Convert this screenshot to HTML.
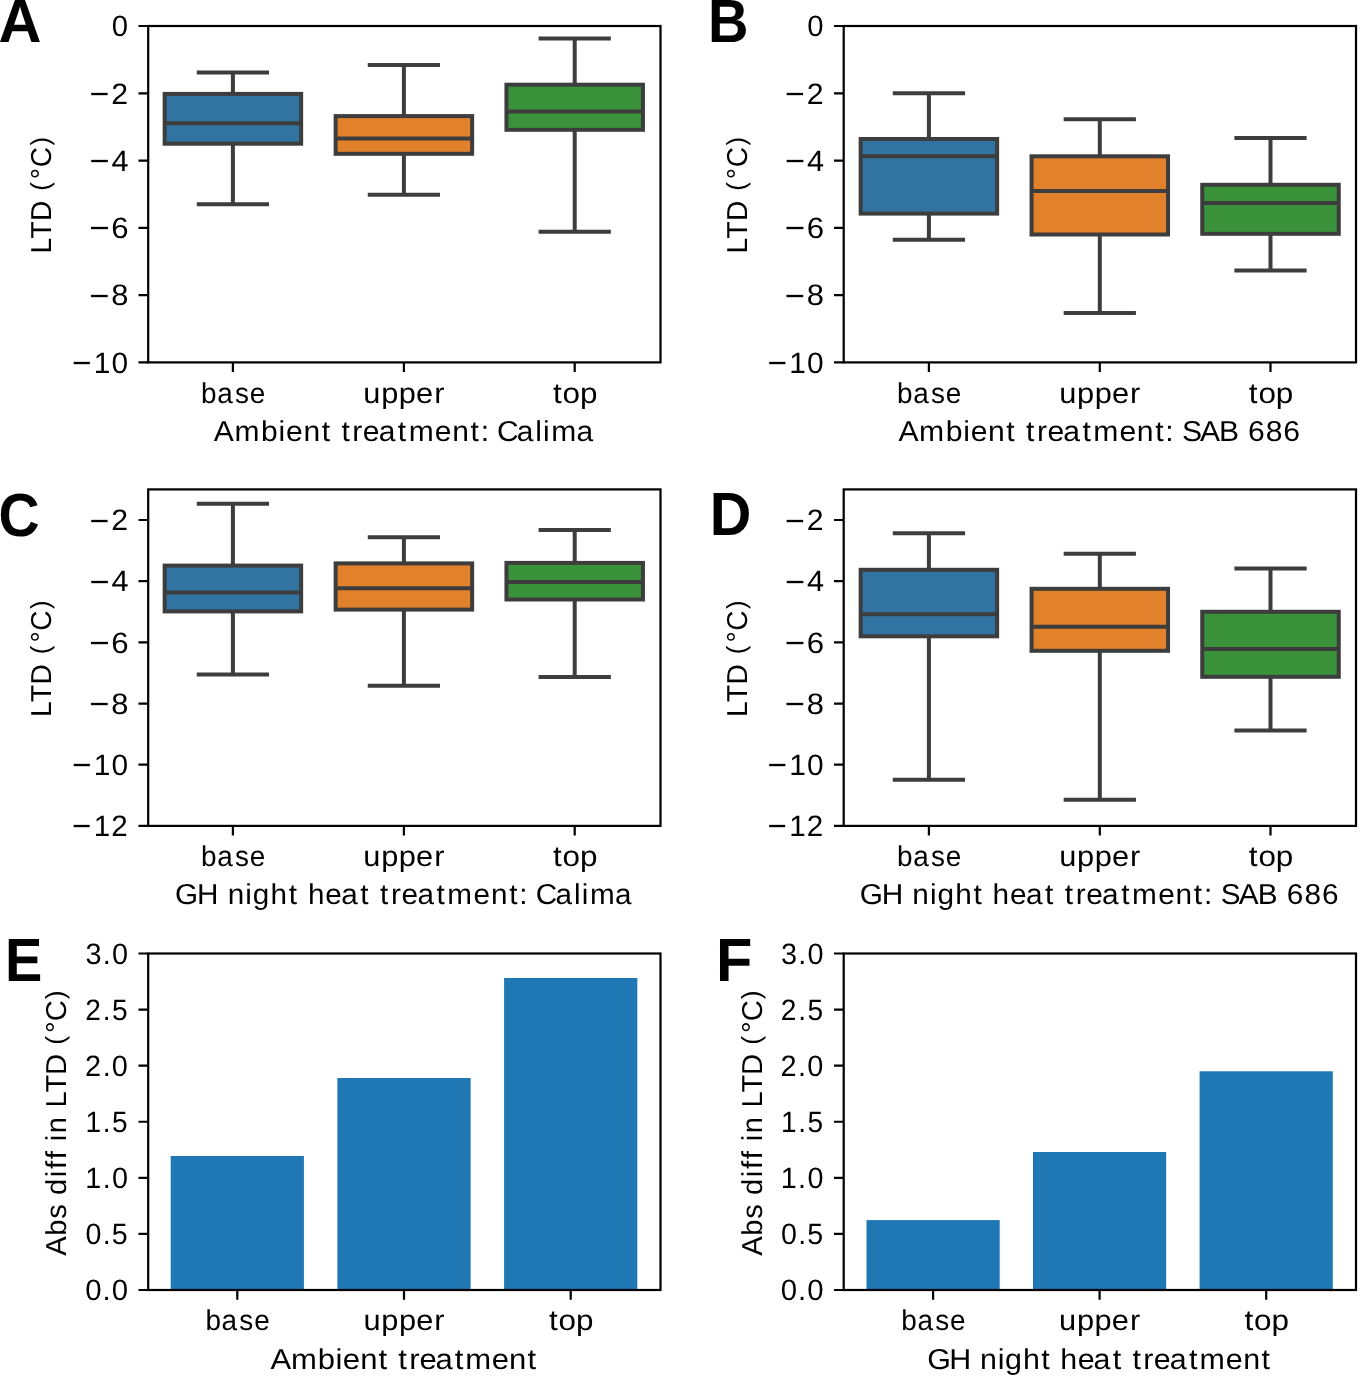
<!DOCTYPE html>
<html><head><meta charset="utf-8"><title>LTD boxplots</title>
<style>
html,body{margin:0;padding:0;background:#fff;width:1360px;height:1376px;overflow:hidden}
svg{display:block}
text{font-family:"Liberation Sans",sans-serif;fill:#000;text-rendering:geometricPrecision}
text.b{font-weight:bold}
</style></head><body>
<svg width="1360" height="1376" viewBox="0 0 1360 1376">
<rect x="0" y="0" width="1360" height="1376" fill="#fff"/>
<g stroke="#3d3d3d" stroke-width="4.0" fill="none">
<path d="M232.9 93.9V72.57M232.9 143.7V204.2" stroke-linecap="butt"/>
<path d="M198.78 72.57H267.02M198.78 204.2H267.02" stroke-linecap="square"/>
</g>
<rect x="164.65" y="93.9" width="136.5" height="49.8" fill="#3274a1" stroke="#3d3d3d" stroke-width="4.0"/>
<path d="M164.65 123.2H301.15" stroke="#3d3d3d" stroke-width="4.0"/>
<g stroke="#3d3d3d" stroke-width="4.0" fill="none">
<path d="M403.9 116.1V65.1M403.9 153.8V194.8" stroke-linecap="butt"/>
<path d="M369.77 65.1H438.02M369.77 194.8H438.02" stroke-linecap="square"/>
</g>
<rect x="335.65" y="116.1" width="136.5" height="37.7" fill="#e1812c" stroke="#3d3d3d" stroke-width="4.0"/>
<path d="M335.65 138.6H472.15" stroke="#3d3d3d" stroke-width="4.0"/>
<g stroke="#3d3d3d" stroke-width="4.0" fill="none">
<path d="M574.7 84.7V38.4M574.7 129.8V231.8" stroke-linecap="butt"/>
<path d="M540.58 38.4H608.83M540.58 231.8H608.83" stroke-linecap="square"/>
</g>
<rect x="506.45" y="84.7" width="136.5" height="45.1" fill="#3a923a" stroke="#3d3d3d" stroke-width="4.0"/>
<path d="M506.45 111.4H642.95" stroke="#3d3d3d" stroke-width="4.0"/>
<rect x="148.2" y="26" width="512.3" height="336.4" fill="none" stroke="#000" stroke-width="2.22"/>
<path d="M138.48 26H148.2M138.48 93.28H148.2M138.48 160.56H148.2M138.48 227.84H148.2M138.48 295.12H148.2M138.48 362.4H148.2" stroke="#000" stroke-width="2.22" stroke-linecap="butt"/>
<path d="M232.9 362.4V372.12M403.9 362.4V372.12M574.7 362.4V372.12" stroke="#000" stroke-width="2.22"/>
<g stroke="#3d3d3d" stroke-width="4.0" fill="none">
<path d="M928.9 139V93.2M928.9 213.6V239.8" stroke-linecap="butt"/>
<path d="M894.77 93.2H963.02M894.77 239.8H963.02" stroke-linecap="square"/>
</g>
<rect x="860.65" y="139" width="136.5" height="74.6" fill="#3274a1" stroke="#3d3d3d" stroke-width="4.0"/>
<path d="M860.65 156.3H997.15" stroke="#3d3d3d" stroke-width="4.0"/>
<g stroke="#3d3d3d" stroke-width="4.0" fill="none">
<path d="M1099.8 156.3V119.2M1099.8 234.5V313.1" stroke-linecap="butt"/>
<path d="M1065.67 119.2H1133.92M1065.67 313.1H1133.92" stroke-linecap="square"/>
</g>
<rect x="1031.55" y="156.3" width="136.5" height="78.2" fill="#e1812c" stroke="#3d3d3d" stroke-width="4.0"/>
<path d="M1031.55 191.1H1168.05" stroke="#3d3d3d" stroke-width="4.0"/>
<g stroke="#3d3d3d" stroke-width="4.0" fill="none">
<path d="M1270.5 184.8V137.9M1270.5 233.8V270.5" stroke-linecap="butt"/>
<path d="M1236.38 137.9H1304.62M1236.38 270.5H1304.62" stroke-linecap="square"/>
</g>
<rect x="1202.25" y="184.8" width="136.5" height="49" fill="#3a923a" stroke="#3d3d3d" stroke-width="4.0"/>
<path d="M1202.25 203H1338.75" stroke="#3d3d3d" stroke-width="4.0"/>
<rect x="843.7" y="26" width="512.3" height="336.4" fill="none" stroke="#000" stroke-width="2.22"/>
<path d="M833.98 26H843.7M833.98 93.28H843.7M833.98 160.56H843.7M833.98 227.84H843.7M833.98 295.12H843.7M833.98 362.4H843.7" stroke="#000" stroke-width="2.22" stroke-linecap="butt"/>
<path d="M928.9 362.4V372.12M1099.8 362.4V372.12M1270.5 362.4V372.12" stroke="#000" stroke-width="2.22"/>
<g stroke="#3d3d3d" stroke-width="4.0" fill="none">
<path d="M232.9 565.6V503.7M232.9 611.4V674.4" stroke-linecap="butt"/>
<path d="M198.78 503.7H267.02M198.78 674.4H267.02" stroke-linecap="square"/>
</g>
<rect x="164.65" y="565.6" width="136.5" height="45.8" fill="#3274a1" stroke="#3d3d3d" stroke-width="4.0"/>
<path d="M164.65 592.6H301.15" stroke="#3d3d3d" stroke-width="4.0"/>
<g stroke="#3d3d3d" stroke-width="4.0" fill="none">
<path d="M403.9 563.4V537.2M403.9 609.6V685.7" stroke-linecap="butt"/>
<path d="M369.77 537.2H438.02M369.77 685.7H438.02" stroke-linecap="square"/>
</g>
<rect x="335.65" y="563.4" width="136.5" height="46.2" fill="#e1812c" stroke="#3d3d3d" stroke-width="4.0"/>
<path d="M335.65 588.2H472.15" stroke="#3d3d3d" stroke-width="4.0"/>
<g stroke="#3d3d3d" stroke-width="4.0" fill="none">
<path d="M574.7 562.9V530M574.7 599.5V677" stroke-linecap="butt"/>
<path d="M540.58 530H608.83M540.58 677H608.83" stroke-linecap="square"/>
</g>
<rect x="506.45" y="562.9" width="136.5" height="36.6" fill="#3a923a" stroke="#3d3d3d" stroke-width="4.0"/>
<path d="M506.45 582.1H642.95" stroke="#3d3d3d" stroke-width="4.0"/>
<rect x="148.2" y="489.4" width="512.3" height="336.5" fill="none" stroke="#000" stroke-width="2.22"/>
<path d="M138.48 519.99H148.2M138.48 581.17H148.2M138.48 642.35H148.2M138.48 703.54H148.2M138.48 764.72H148.2M138.48 825.9H148.2" stroke="#000" stroke-width="2.22" stroke-linecap="butt"/>
<path d="M232.9 825.9V835.62M403.9 825.9V835.62M574.7 825.9V835.62" stroke="#000" stroke-width="2.22"/>
<g stroke="#3d3d3d" stroke-width="4.0" fill="none">
<path d="M928.9 569.8V533.2M928.9 636.3V779.7" stroke-linecap="butt"/>
<path d="M894.77 533.2H963.02M894.77 779.7H963.02" stroke-linecap="square"/>
</g>
<rect x="860.65" y="569.8" width="136.5" height="66.5" fill="#3274a1" stroke="#3d3d3d" stroke-width="4.0"/>
<path d="M860.65 614.2H997.15" stroke="#3d3d3d" stroke-width="4.0"/>
<g stroke="#3d3d3d" stroke-width="4.0" fill="none">
<path d="M1099.8 588.8V553.8M1099.8 650.8V799.7" stroke-linecap="butt"/>
<path d="M1065.67 553.8H1133.92M1065.67 799.7H1133.92" stroke-linecap="square"/>
</g>
<rect x="1031.55" y="588.8" width="136.5" height="62" fill="#e1812c" stroke="#3d3d3d" stroke-width="4.0"/>
<path d="M1031.55 626.8H1168.05" stroke="#3d3d3d" stroke-width="4.0"/>
<g stroke="#3d3d3d" stroke-width="4.0" fill="none">
<path d="M1270.5 611.8V568.6M1270.5 676.8V730.6" stroke-linecap="butt"/>
<path d="M1236.38 568.6H1304.62M1236.38 730.6H1304.62" stroke-linecap="square"/>
</g>
<rect x="1202.25" y="611.8" width="136.5" height="65" fill="#3a923a" stroke="#3d3d3d" stroke-width="4.0"/>
<path d="M1202.25 648.9H1338.75" stroke="#3d3d3d" stroke-width="4.0"/>
<rect x="843.7" y="489.4" width="512.3" height="336.5" fill="none" stroke="#000" stroke-width="2.22"/>
<path d="M833.98 519.99H843.7M833.98 581.17H843.7M833.98 642.35H843.7M833.98 703.54H843.7M833.98 764.72H843.7M833.98 825.9H843.7" stroke="#000" stroke-width="2.22" stroke-linecap="butt"/>
<path d="M928.9 825.9V835.62M1099.8 825.9V835.62M1270.5 825.9V835.62" stroke="#000" stroke-width="2.22"/>
<rect x="170.7" y="1156" width="133.2" height="134" fill="#1f77b4"/>
<rect x="337.4" y="1078" width="133.2" height="212" fill="#1f77b4"/>
<rect x="504.1" y="978" width="133.2" height="312" fill="#1f77b4"/>
<rect x="148.2" y="953.5" width="512.3" height="336.5" fill="none" stroke="#000" stroke-width="2.22"/>
<path d="M138.48 1290H148.2M138.48 1233.92H148.2M138.48 1177.83H148.2M138.48 1121.75H148.2M138.48 1065.67H148.2M138.48 1009.58H148.2M138.48 953.5H148.2" stroke="#000" stroke-width="2.22" stroke-linecap="butt"/>
<path d="M237.3 1290V1299.72M404 1290V1299.72M570.7 1290V1299.72" stroke="#000" stroke-width="2.22"/>
<rect x="866.5" y="1220.1" width="133.2" height="69.9" fill="#1f77b4"/>
<rect x="1033" y="1152" width="133.2" height="138" fill="#1f77b4"/>
<rect x="1199.6" y="1071.3" width="133.2" height="218.7" fill="#1f77b4"/>
<rect x="843.7" y="953.5" width="512.3" height="336.5" fill="none" stroke="#000" stroke-width="2.22"/>
<path d="M833.98 1290H843.7M833.98 1233.92H843.7M833.98 1177.83H843.7M833.98 1121.75H843.7M833.98 1065.67H843.7M833.98 1009.58H843.7M833.98 953.5H843.7" stroke="#000" stroke-width="2.22" stroke-linecap="butt"/>
<path d="M933.1 1290V1299.72M1099.6 1290V1299.72M1266.2 1290V1299.72" stroke="#000" stroke-width="2.22"/>
<g style="opacity:0.999">
<text transform="translate(0 36.3) scale(0.9927 1)" x="112.6" y="-0" font-size="29.5">0</text>
<text transform="translate(0 103.58) scale(1.0257 1)" x="87.3 108.35" y="1.25 -0" font-size="29.5"><tspan font-size="33.04">−</tspan>2</text>
<text transform="translate(0 170.86) scale(1.0398 1)" x="85.99 107.13" y="1.25 -0" font-size="29.5"><tspan font-size="33.04">−</tspan>4</text>
<text transform="translate(0 238.14) scale(1.0577 1)" x="84.37 105.17" y="1.25 -0" font-size="29.5"><tspan font-size="33.04">−</tspan>6</text>
<text transform="translate(0 305.42) scale(1.0463 1)" x="85.39 106.4" y="1.25 -0" font-size="29.5"><tspan font-size="33.04">−</tspan>8</text>
<text transform="translate(0 372.7) scale(1.0134 1)" x="71.04 92.53 110.13" y="1.25 -0 -0" font-size="29.5"><tspan font-size="33.04">−</tspan>10</text>
<text transform="translate(0 402.65) scale(0.9684 1)" x="207.61 224.25 242.58 257.92" y="-0 -0 -0 -0" font-size="28.8">base</text>
<text transform="translate(0 402.65) scale(1.0685 1)" x="340.09 356.78 373.28 389.44 406.4" y="-0 -0 -0 -0 -0" font-size="28.8">upper</text>
<text transform="translate(0 402.65) scale(1.0918 1)" x="506.44 515.29 531.27" y="-0 -0 -0" font-size="28.8">top</text>
<text transform="translate(0 440.9) scale(1.0419 1)" x="205.27 225.06 250.58 267.41 274.55 291.2 308.76 313.76 327.69 338.17 348.2 363.49 381.84 392.21 417.37 434.02 451.57 461.37 466.37 477.09 496.09 513.79 521.22 529.17 553.22" y="-0 -0 -0 -0 -0 -0 -0 -0 -0 -0 -0 -0 -0 -0 -0 -0 -0 -0 -0 -0 -0 -0 -0 -0 -0" font-size="28.8">Ambient treatment: Calima</text>
<text transform="translate(51.2 0) rotate(-90) scale(0.9752 1)" x="-259.93 -244.69 -226.57 -221.57 -195.68 -183.73 -171.46 -149.13" y="-0 -0 -0 -0 -1.83 -0 -0 -1.83" font-size="28.8">LTD <tspan font-size="26.27">(</tspan>°C<tspan font-size="26.27">)</tspan></text>
<text transform="translate(0 36.3) scale(0.9927 1)" x="813.23" y="-0" font-size="29.5">0</text>
<text transform="translate(0 103.58) scale(1.0257 1)" x="765.39 786.44" y="1.25 -0" font-size="29.5"><tspan font-size="33.04">−</tspan>2</text>
<text transform="translate(0 170.86) scale(1.0398 1)" x="754.87 776.01" y="1.25 -0" font-size="29.5"><tspan font-size="33.04">−</tspan>4</text>
<text transform="translate(0 238.14) scale(1.0577 1)" x="741.96 762.76" y="1.25 -0" font-size="29.5"><tspan font-size="33.04">−</tspan>6</text>
<text transform="translate(0 305.42) scale(1.0463 1)" x="750.09 771.11" y="1.25 -0" font-size="29.5"><tspan font-size="33.04">−</tspan>8</text>
<text transform="translate(0 372.7) scale(1.0134 1)" x="757.35 778.84 796.44" y="1.25 -0 -0" font-size="29.5"><tspan font-size="33.04">−</tspan>10</text>
<text transform="translate(0 402.65) scale(0.9684 1)" x="926.35 942.99 961.31 976.66" y="-0 -0 -0 -0" font-size="28.8">base</text>
<text transform="translate(0 402.65) scale(1.0685 1)" x="991.35 1008.05 1024.55 1040.7 1057.67" y="-0 -0 -0 -0 -0" font-size="28.8">upper</text>
<text transform="translate(0 402.65) scale(1.0918 1)" x="1143.73 1152.58 1168.57" y="-0 -0 -0" font-size="28.8">top</text>
<text transform="translate(0 440.9) scale(1.0457 1)" x="859.24 878.95 904.4 921.18 928.28 944.87 962.37 967.37 981.23 991.67 1001.66 1016.89 1035.2 1045.49 1070.57 1087.17 1104.67 1114.43 1119.43 1130.32 1147.68 1165.83 1170.83 1193.49 1210.39 1227.29" y="-0 -0 -0 -0 -0 -0 -0 -0 -0 -0 -0 -0 -0 -0 -0 -0 -0 -0 -0 -0 -0 -0 -0 -0 -0 -0" font-size="28.8">Ambient treatment: SAB 686</text>
<text transform="translate(746.7 0) rotate(-90) scale(0.9752 1)" x="-259.93 -244.69 -226.57 -221.57 -195.68 -183.73 -171.46 -149.13" y="-0 -0 -0 -0 -1.83 -0 -0 -1.83" font-size="28.8">LTD <tspan font-size="26.27">(</tspan>°C<tspan font-size="26.27">)</tspan></text>
<text transform="translate(0 530.29) scale(1.0257 1)" x="87.3 108.35" y="1.25 -0" font-size="29.5"><tspan font-size="33.04">−</tspan>2</text>
<text transform="translate(0 591.47) scale(1.0398 1)" x="85.99 107.13" y="1.25 -0" font-size="29.5"><tspan font-size="33.04">−</tspan>4</text>
<text transform="translate(0 652.65) scale(1.0577 1)" x="84.37 105.17" y="1.25 -0" font-size="29.5"><tspan font-size="33.04">−</tspan>6</text>
<text transform="translate(0 713.84) scale(1.0463 1)" x="85.39 106.4" y="1.25 -0" font-size="29.5"><tspan font-size="33.04">−</tspan>8</text>
<text transform="translate(0 775.02) scale(1.0134 1)" x="71.04 92.53 110.13" y="1.25 -0 -0" font-size="29.5"><tspan font-size="33.04">−</tspan>10</text>
<text transform="translate(0 836.2) scale(1.0023 1)" x="71.93 93.65 111.07" y="1.25 -0 -0" font-size="29.5"><tspan font-size="33.04">−</tspan>12</text>
<text transform="translate(0 866.15) scale(0.9684 1)" x="207.61 224.25 242.58 257.92" y="-0 -0 -0 -0" font-size="28.8">base</text>
<text transform="translate(0 866.15) scale(1.0685 1)" x="340.09 356.78 373.28 389.44 406.4" y="-0 -0 -0 -0 -0" font-size="28.8">upper</text>
<text transform="translate(0 866.15) scale(1.0918 1)" x="506.44 515.29 531.27" y="-0 -0 -0" font-size="28.8">top</text>
<text transform="translate(0 904.4) scale(1.0300 1)" x="169.94 191.33 196.33 221.04 238.1 245.43 262.71 280.46 285.46 298.95 315.83 331.31 349.83 354.83 368.97 379.59 389.77 405.25 423.76 434.33 459.74 476.58 494.3 504.21 509.21 520.18 539.38 557.22 564.73 572.88 597.17" y="-0 -0 -0 -0 -0 -0 -0 -0 -0 -0 -0 -0 -0 -0 -0 -0 -0 -0 -0 -0 -0 -0 -0 -0 -0 -0 -0 -0 -0 -0 -0" font-size="28.8">GH night heat treatment: Calima</text>
<text transform="translate(51.2 0) rotate(-90) scale(0.9752 1)" x="-735.16 -719.92 -701.8 -696.8 -670.92 -658.96 -646.7 -624.36" y="-0 -0 -0 -0 -1.83 -0 -0 -1.83" font-size="28.8">LTD <tspan font-size="26.27">(</tspan>°C<tspan font-size="26.27">)</tspan></text>
<text transform="translate(0 530.29) scale(1.0257 1)" x="765.39 786.44" y="1.25 -0" font-size="29.5"><tspan font-size="33.04">−</tspan>2</text>
<text transform="translate(0 591.47) scale(1.0398 1)" x="754.87 776.01" y="1.25 -0" font-size="29.5"><tspan font-size="33.04">−</tspan>4</text>
<text transform="translate(0 652.65) scale(1.0577 1)" x="741.96 762.76" y="1.25 -0" font-size="29.5"><tspan font-size="33.04">−</tspan>6</text>
<text transform="translate(0 713.84) scale(1.0463 1)" x="750.09 771.11" y="1.25 -0" font-size="29.5"><tspan font-size="33.04">−</tspan>8</text>
<text transform="translate(0 775.02) scale(1.0134 1)" x="757.35 778.84 796.44" y="1.25 -0 -0" font-size="29.5"><tspan font-size="33.04">−</tspan>10</text>
<text transform="translate(0 836.2) scale(1.0023 1)" x="765.83 787.55 804.97" y="1.25 -0 -0" font-size="29.5"><tspan font-size="33.04">−</tspan>12</text>
<text transform="translate(0 866.15) scale(0.9684 1)" x="926.35 942.99 961.31 976.66" y="-0 -0 -0 -0" font-size="28.8">base</text>
<text transform="translate(0 866.15) scale(1.0685 1)" x="991.35 1008.05 1024.55 1040.7 1057.67" y="-0 -0 -0 -0 -0" font-size="28.8">upper</text>
<text transform="translate(0 866.15) scale(1.0918 1)" x="1143.73 1152.58 1168.57" y="-0 -0 -0" font-size="28.8">top</text>
<text transform="translate(0 904.4) scale(1.0340 1)" x="831.45 852.75 857.75 882.36 899.37 906.66 923.87 941.57 946.57 959.97 976.79 992.21 1010.66 1015.66 1029.74 1040.31 1050.44 1065.86 1084.31 1094.82 1120.14 1136.92 1154.58 1164.45 1169.45 1180.58 1198.14 1216.5 1221.5 1244.45 1261.54 1278.64" y="-0 -0 -0 -0 -0 -0 -0 -0 -0 -0 -0 -0 -0 -0 -0 -0 -0 -0 -0 -0 -0 -0 -0 -0 -0 -0 -0 -0 -0 -0 -0 -0" font-size="28.8">GH night heat treatment: SAB 686</text>
<text transform="translate(746.7 0) rotate(-90) scale(0.9752 1)" x="-735.16 -719.92 -701.8 -696.8 -670.92 -658.96 -646.7 -624.36" y="-0 -0 -0 -0 -1.83 -0 -0 -1.83" font-size="28.8">LTD <tspan font-size="26.27">(</tspan>°C<tspan font-size="26.27">)</tspan></text>
<text transform="translate(0 1300.3) scale(0.9951 1)" x="85.67 103.09 112.31" y="-0 -0 -0" font-size="29.5">0.0</text>
<text transform="translate(0 1244.22) scale(0.9698 1)" x="88.12 105.88 115.34" y="-0 -0 -0" font-size="29.5">0.5</text>
<text transform="translate(0 1188.13) scale(0.9760 1)" x="87.36 105.18 114.66" y="-0 -0 -0" font-size="29.5">1.0</text>
<text transform="translate(0 1132.05) scale(0.9495 1)" x="90.04 108.23 117.98" y="-0 -0 -0" font-size="29.5">1.5</text>
<text transform="translate(0 1075.97) scale(0.9792 1)" x="86.81 104.82 114.26" y="-0 -0 -0" font-size="29.5">2.0</text>
<text transform="translate(0 1019.88) scale(0.9534 1)" x="89.39 107.78 117.47" y="-0 -0 -0" font-size="29.5">2.5</text>
<text transform="translate(0 963.8) scale(0.9773 1)" x="87.42 105.04 114.5" y="-0 -0 -0" font-size="29.5">3.0</text>
<text transform="translate(0 1330.25) scale(0.9684 1)" x="212.15 228.8 247.12 262.47" y="-0 -0 -0 -0" font-size="28.8">base</text>
<text transform="translate(0 1330.25) scale(1.0685 1)" x="340.18 356.87 373.37 389.53 406.5" y="-0 -0 -0 -0 -0" font-size="28.8">upper</text>
<text transform="translate(0 1330.25) scale(1.0918 1)" x="502.78 511.62 527.61" y="-0 -0 -0" font-size="28.8">top</text>
<text transform="translate(0 1368.5) scale(1.0783 1)" x="250.94 269.98 294.77 311.21 317.94 334.03 351.13 356.13 369.42 379.5 389.1 403.86 421.75 431.5 455.94 472.03 489.12" y="-0 -0 -0 -0 -0 -0 -0 -0 -0 -0 -0 -0 -0 -0 -0 -0 -0" font-size="28.8">Ambient treatment</text>
<text transform="translate(66 0) rotate(-90) scale(1.0121 1)" x="-1240.73 -1220.86 -1204.17 -1199.17 -1180.75 -1163.23 -1155.05 -1145.39 -1140.39 -1127.56 -1119.81 -1114.81 -1094.23 -1079.55 -1062.16 -1057.16 -1032.19 -1020.7 -1009.05 -987.28" y="-0 -0 -0 -0 -0 -0 -0 -0 -0 -0 -0 -0 -0 -0 -0 -0 -1.83 -0 -0 -1.83" font-size="28.8">Abs diff in LTD <tspan font-size="26.27">(</tspan>°C<tspan font-size="26.27">)</tspan></text>
<text transform="translate(0 1300.3) scale(0.9951 1)" x="784.63 802.04 811.26" y="-0 -0 -0" font-size="29.5">0.0</text>
<text transform="translate(0 1244.22) scale(0.9698 1)" x="805.28 823.04 832.5" y="-0 -0 -0" font-size="29.5">0.5</text>
<text transform="translate(0 1188.13) scale(0.9760 1)" x="799.94 817.76 827.24" y="-0 -0 -0" font-size="29.5">1.0</text>
<text transform="translate(0 1132.05) scale(0.9495 1)" x="822.52 840.72 850.46" y="-0 -0 -0" font-size="29.5">1.5</text>
<text transform="translate(0 1075.97) scale(0.9792 1)" x="797.06 815.07 824.5" y="-0 -0 -0" font-size="29.5">2.0</text>
<text transform="translate(0 1019.88) scale(0.9534 1)" x="818.92 837.3 846.99" y="-0 -0 -0" font-size="29.5">2.5</text>
<text transform="translate(0 963.8) scale(0.9773 1)" x="799.11 816.73 826.19" y="-0 -0 -0" font-size="29.5">3.0</text>
<text transform="translate(0 1330.25) scale(0.9684 1)" x="930.68 947.33 965.65 981" y="-0 -0 -0 -0" font-size="28.8">base</text>
<text transform="translate(0 1330.25) scale(1.0685 1)" x="991.17 1007.86 1024.36 1040.52 1057.48" y="-0 -0 -0 -0 -0" font-size="28.8">upper</text>
<text transform="translate(0 1330.25) scale(1.0918 1)" x="1139.79 1148.64 1164.63" y="-0 -0 -0" font-size="28.8">top</text>
<text transform="translate(0 1368.5) scale(1.0559 1)" x="878.2 899.07 904.07 928.11 944.87 951.91 968.76 986.17 991.17 1004.11 1020.58 1035.66 1053.83 1058.83 1072.51 1082.83 1092.69 1107.78 1125.95 1136.07 1160.94 1177.38 1194.75" y="-0 -0 -0 -0 -0 -0 -0 -0 -0 -0 -0 -0 -0 -0 -0 -0 -0 -0 -0 -0 -0 -0 -0" font-size="28.8">GH night heat treatment</text>
<text transform="translate(761.5 0) rotate(-90) scale(1.0121 1)" x="-1240.73 -1220.86 -1204.17 -1199.17 -1180.75 -1163.23 -1155.05 -1145.39 -1140.39 -1127.56 -1119.81 -1114.81 -1094.23 -1079.55 -1062.16 -1057.16 -1032.19 -1020.7 -1009.05 -987.28" y="-0 -0 -0 -0 -0 -0 -0 -0 -0 -0 -0 -0 -0 -0 -0 -0 -1.83 -0 -0 -1.83" font-size="28.8">Abs diff in LTD <tspan font-size="26.27">(</tspan>°C<tspan font-size="26.27">)</tspan></text>
<text class="b" transform="translate(-1.48 41.7) scale(0.9766 1)" font-size="60.9">A</text>
<text class="b" transform="translate(707.95 41.7) scale(0.9208 1)" font-size="60.9">B</text>
<text class="b" transform="translate(-1.43 535.9) scale(0.9343 1)" font-size="60.9">C</text>
<text class="b" transform="translate(709.65 535) scale(0.9451 1)" font-size="60.9">D</text>
<text class="b" transform="translate(4.96 980.9) scale(0.9190 1)" font-size="60.9">E</text>
<text class="b" transform="translate(716.12 981) scale(0.9775 1)" font-size="60.9">F</text>
</g>
</svg>
</body></html>
